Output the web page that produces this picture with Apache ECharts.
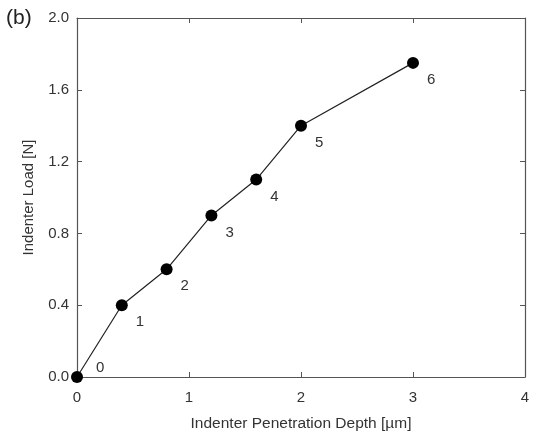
<!DOCTYPE html>
<html>
<head>
<meta charset="utf-8">
<script src="https://cdn.jsdelivr.net/npm/echarts@6/dist/echarts.min.js"></script>
<style>
  html, body { margin: 0; padding: 0; background: #fff; overflow: hidden; }
  #chart { width: 533px; height: 437px; }
</style>
</head>
<body>
<div id="chart"></div>
<script>
// Indentation test: penetration depth (µm) vs. applied load (N)
const depth = [0, 0.4, 0.8, 1.2, 1.6, 2.0, 3.0];
const load = [0, 0.4, 0.6, 0.9, 1.1, 1.4, 1.75];
const pointLabels = ['0', '1', '2', '3', '4', '5', '6'];
const xTicks = [0, 1, 2, 3, 4];
const yTicks = [0.0, 0.4, 0.8, 1.2, 1.6, 2.0];

const axisColor = '#555';
const textColor = '#333';
const font = 'Liberation Sans, Arial, sans-serif';

const chart = echarts.init(document.getElementById('chart'), null, { renderer: 'canvas' });

const baseX = {
  type: 'value', min: xTicks[0], max: xTicks[xTicks.length - 1], interval: 1,
  axisLine: { show: true, onZero: false, lineStyle: { color: axisColor, width: 1.2 } },
  axisTick: { show: true, inside: true, length: 5, lineStyle: { color: axisColor } },
  splitLine: { show: false }
};
const baseY = {
  type: 'value', min: yTicks[0], max: yTicks[yTicks.length - 1], interval: 0.4,
  axisLine: { show: true, onZero: false, lineStyle: { color: axisColor, width: 1.2 } },
  axisTick: { show: true, inside: true, length: 5, lineStyle: { color: axisColor } },
  splitLine: { show: false }
};

const labelStyle = { fontSize: 15, color: textColor, fontFamily: font };

chart.setOption({
  backgroundColor: '#fff',
  animation: false,
  grid: { left: 77, top: 18, width: 448, height: 363 },
  graphic: [{
    type: 'text', left: 6, top: 8,
    style: { text: '(b)', fontSize: 21, fontFamily: font, fill: '#222' }
  }],
  xAxis: [
    Object.assign({}, baseX, {
      position: 'bottom',
      name: 'Indenter Penetration Depth [µm]',
      nameLocation: 'middle', nameGap: 39,
      nameTextStyle: Object.assign({}, labelStyle, { fontSize: 15.5 }),
      axisLabel: Object.assign({ margin: 13 }, labelStyle)
    }),
    Object.assign({}, baseX, { position: 'top', axisLabel: { show: false } })
  ],
  yAxis: [
    Object.assign({}, baseY, {
      position: 'left',
      name: 'Indenter Load [N]',
      nameLocation: 'middle', nameGap: 41,
      nameTextStyle: labelStyle,
      axisLabel: Object.assign({ margin: 8, formatter: v => v.toFixed(1) }, labelStyle)
    }),
    Object.assign({}, baseY, { position: 'right', axisLabel: { show: false } })
  ],
  series: [{
    type: 'line',
    xAxisIndex: 0, yAxisIndex: 0,
    data: depth.map((d, i) => {
      const item = { value: [d, load[i]] };
      // the origin label sits above its point, the others below-right
      if (i === 0) item.label = { offset: [8, -9] };
      return item;
    }),
    symbol: 'circle', symbolSize: 12,
    itemStyle: { color: '#000' },
    lineStyle: { color: '#222', width: 1.2 },
    label: Object.assign({
      show: true,
      formatter: p => pointLabels[p.dataIndex],
      position: 'right', offset: [3, 17]
    }, labelStyle),
    z: 5
  }]
});
</script>
</body>
</html>
